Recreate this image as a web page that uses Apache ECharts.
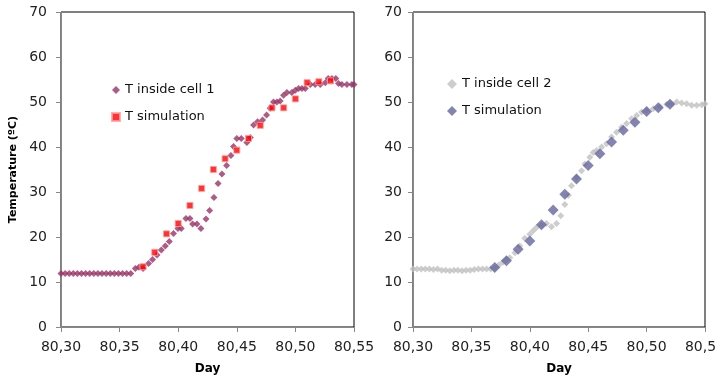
<!DOCTYPE html>
<html><head><meta charset="utf-8">
<script src="https://cdn.jsdelivr.net/npm/echarts@6/dist/echarts.min.js"></script>
<style>html,body{margin:0;padding:0;background:#fff}#c{width:715px;height:380px}</style>
</head><body><div id="c"></div>
<script>
// ---- data ----
const xTicks = ['80,30','80,35','80,40','80,45','80,50','80,55'];
const cell1Days = [80.3000,80.3035,80.3070,80.3105,80.3140,80.3175,80.3210,80.3245,80.3280,80.3315,80.3350,80.3385,80.3420,80.3455,80.3490,80.3525,80.3560,80.3595,
 80.3634,80.3665,80.3700,80.3747,80.3781,80.3819,80.3856,80.3890,80.3924,80.3960,80.3998,80.4026,80.4066,80.4100,80.4123,80.4160,80.4194,80.4237,80.4268,80.4305,80.4340,80.4373,80.4413,80.4450,80.4472,80.4500,80.4538,80.4586,80.4615,80.4643,80.4677,80.4720,80.4754,80.4785,80.4813,80.4842,80.4870,80.4899,80.4928,80.4970,80.4999,80.5027,80.5056,80.5084,80.5127,80.5169,80.5212,80.5255,80.5280,80.5312,80.5345,80.5368,80.5397,80.5440,80.5482,80.5500];
const cell1Temps = [11.9,11.9,11.9,11.9,11.9,11.9,11.9,11.9,11.9,11.9,11.9,11.9,11.9,11.9,11.9,11.9,11.9,11.9,
 13.0,13.3,13.0,14.1,15.0,16.0,17.1,18.0,19.0,20.8,21.9,21.9,24.1,24.1,22.9,22.9,21.9,24.0,25.9,28.8,31.9,34.0,35.9,38.1,40.1,41.9,41.9,41.0,42.1,44.9,45.6,46.0,47.1,48.6,50.0,50.0,50.2,51.5,52.1,52.1,52.6,53.0,53.0,53.0,53.9,53.9,53.9,54.3,55.2,55.2,55.2,54.1,53.9,53.9,53.9,53.9];
const sim1Days = [80.37,80.38,80.39,80.40,80.41,80.42,80.43,80.44,80.45,80.46,80.47,80.48,80.49,80.50,80.51,80.52,80.53];
const sim1Temps = [13.4,16.6,20.7,23.0,27.0,30.8,35.0,37.4,39.3,41.9,44.8,48.7,48.7,50.7,54.3,54.5,54.7];
const cell2Days = [80.3000,80.3035,80.3070,80.3105,80.3140,80.3175,80.3210,80.3245,80.3280,80.3315,80.3350,80.3385,80.3420,80.3455,80.3490,80.3525,80.3560,80.3595,80.3630,80.3665,
 80.3700,80.3735,80.3770,80.3800,80.3829,80.3872,80.3914,80.3957,80.4000,80.4029,80.4058,80.4100,80.4143,80.4186,80.4229,80.4265,80.4300,80.4330,80.4357,80.4400,80.4443,80.4471,80.4514,80.4543,80.4572,80.4615,80.4657,80.4700,80.4743,80.4786,80.4829,80.4872,80.4915,80.4957,80.5000,80.5057,80.5114,80.5172,80.5214,80.5257,80.5300,80.5343,80.5386,80.5429,80.5472,80.5500];
const cell2Temps = [12.9,12.9,12.9,12.9,12.9,12.8,12.9,12.6,12.6,12.5,12.6,12.6,12.5,12.6,12.6,12.8,12.9,12.9,12.9,12.9,
 13.1,13.8,14.4,15.0,15.4,16.5,18.0,19.7,20.6,21.4,22.1,22.6,23.0,22.3,23.0,24.7,27.2,29.3,31.4,33.3,34.7,36.2,37.7,38.8,39.2,40.0,40.7,42.2,43.3,44.4,45.2,46.3,47.0,47.8,48.1,48.5,49.0,49.5,49.6,50.0,49.8,49.6,49.3,49.3,49.4,49.6];
const sim2Days = [80.37,80.38,80.39,80.40,80.41,80.42,80.43,80.44,80.45,80.46,80.47,80.48,80.49,80.50,80.51,80.52];
const sim2Temps = [13.2,14.7,17.3,19.1,22.7,26.0,29.5,32.9,35.9,38.5,41.1,43.7,45.5,47.9,48.7,49.5];
const legendLabels = {cell1:'T inside cell 1', sim1:'T simulation', cell2:'T inside cell 2', sim2:'T simulation'};

const pairs = (xs, ys) => xs.map((x, i) => [x, ys[i]]);
const FONT = 'DejaVu Sans';

function xAxis(idx) {
  return {
    type: 'value', gridIndex: idx, min: 80.30, max: 80.55, interval: 0.05,
    name: 'Day', nameLocation: 'middle', nameGap: 36,
    nameTextStyle: {fontFamily: FONT, fontWeight: 'bold', fontSize: 12, color: '#000'},
    axisLine: {show: true, lineStyle: {color: '#888', width: 1}},
    axisTick: {show: true, inside: false, length: 5, lineStyle: {color: '#888'}},
    axisLabel: {margin: 13, fontFamily: FONT, fontSize: 14, color: '#222',
      formatter: v => xTicks[Math.round((v - 80.30) / 0.05)] ?? ''},
    splitLine: {show: false}
  };
}
function yAxis(idx, withName, margin) {
  const a = {
    type: 'value', gridIndex: idx, min: 0, max: 70, interval: 10,
    axisLine: {show: true, lineStyle: {color: '#888', width: 1}},
    axisTick: {show: true, length: 5, lineStyle: {color: '#888'}},
    axisLabel: {margin: margin, fontFamily: FONT, fontSize: 14, color: '#222'},
    splitLine: {show: false}
  };
  if (withName) {
    a.name = 'Temperature (ºC)'; a.nameLocation = 'middle'; a.nameGap = 42;
    a.nameTextStyle = {fontFamily: FONT, fontWeight: 'bold', fontSize: 11, color: '#000'};
  }
  return a;
}

const chart = echarts.init(document.getElementById('c'), null, {renderer: 'canvas'});
chart.setOption({
  animation: false,
  backgroundColor: '#fff',
  grid: [
    {left: 61, top: 12, width: 293, height: 315, show: true, borderColor: '#000', borderWidth: 1, backgroundColor: 'transparent', outerBoundsMode: 'none', containLabel: false},
    {left: 413, top: 12, width: 292, height: 315, show: true, borderColor: '#000', borderWidth: 1, backgroundColor: 'transparent', outerBoundsMode: 'none', containLabel: false}
  ],
  xAxis: [xAxis(0), xAxis(1)],
  yAxis: [yAxis(0, true, 14), yAxis(1, false, 11)],
  legend: [
    {data: ['cell1', 'sim1'], orient: 'vertical', left: 106, top: 78, itemWidth: 8, itemHeight: 8, itemGap: 13,
     formatter: n => legendLabels[n], textStyle: {fontFamily: FONT, fontSize: 13, color: '#111', lineHeight: 14}},
    {data: ['cell2', 'sim2'], orient: 'vertical', left: 442, top: 72, itemWidth: 10, itemHeight: 10, itemGap: 13,
     formatter: n => legendLabels[n], textStyle: {fontFamily: FONT, fontSize: 13, color: '#111', lineHeight: 14}}
  ],
  series: [
    {name: 'cell1', type: 'scatter', xAxisIndex: 0, yAxisIndex: 0, symbol: 'diamond', symbolSize: 7,
     itemStyle: {color: '#993366'}, data: pairs(cell1Days, cell1Temps), z: 2},
    {name: 'sim1', type: 'scatter', xAxisIndex: 0, yAxisIndex: 0, symbol: 'rect', symbolSize: 6,
     itemStyle: {color: '#ff0000', borderColor: '#ff9d9d', borderWidth: 1}, data: pairs(sim1Days, sim1Temps), z: 3},
    {name: 'cell2', type: 'scatter', xAxisIndex: 1, yAxisIndex: 1, symbol: 'diamond', symbolSize: 7,
     itemStyle: {color: '#c0c0c0'}, data: pairs(cell2Days, cell2Temps), z: 2},
    {name: 'sim2', type: 'scatter', xAxisIndex: 1, yAxisIndex: 1, symbol: 'diamond', symbolSize: 11,
     itemStyle: {color: '#65659d'}, data: pairs(sim2Days, sim2Temps), z: 3}
  ]
});
</script></body></html>
